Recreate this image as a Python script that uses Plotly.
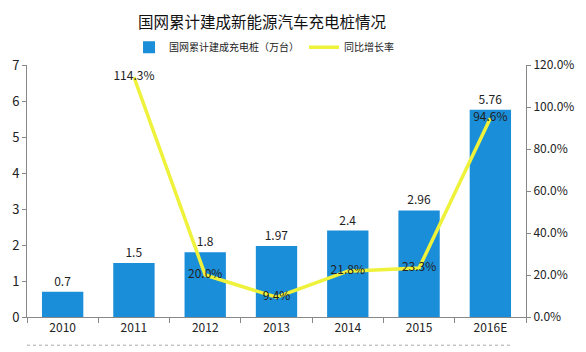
import plotly.graph_objects as go

years = ["2010", "2011", "2012", "2013", "2014", "2015", "2016E"]
piles = [0.7, 1.5, 1.8, 1.97, 2.4, 2.96, 5.76]
pile_labels = ["0.7", "1.5", "1.8", "1.97", "2.4", "2.96", "5.76"]
growth = [None, 1.143, 0.200, 0.094, 0.218, 0.233, 0.946]
growth_labels = ["", "114.3%", "20.0%", "9.4%", "21.8%", "23.3%", "94.6%"]

font = "Noto Sans CJK SC, Microsoft YaHei, sans-serif"

fig = go.Figure()
fig.add_trace(go.Bar(
    x=years, y=piles, name="国网累计建成充电桩（万台）",
    marker=dict(color="#1a8ed8", line=dict(width=0)),
    text=pile_labels, textposition="outside", cliponaxis=False,
    textfont=dict(size=12, color="#222222", family=font),
    yaxis="y",
))
fig.add_trace(go.Scatter(
    x=years, y=growth, name="同比增长率",
    mode="lines+text", line=dict(color="#eef23a", width=3.5),
    text=growth_labels, textposition="middle center",
    textfont=dict(size=12, color="#222222", family=font),
    yaxis="y2", cliponaxis=False,
))

fig.update_layout(
    width=586, height=352,
    margin=dict(l=22, r=53, t=65, b=35),
    paper_bgcolor="white", plot_bgcolor="white",
    font=dict(family=font, size=12, color="#222222"),
    title=dict(text="国网累计建成新能源汽车充电桩情况", x=0.447, xanchor="center",
               y=0.935, yanchor="middle", font=dict(size=15.5, color="#111111")),
    bargap=0.42,
    showlegend=True,
    legend=dict(orientation="h", x=0.475, xanchor="center", y=1.07, yanchor="middle",
                font=dict(size=10), itemwidth=30, bgcolor="rgba(0,0,0,0)"),
    xaxis=dict(showline=True, linecolor="#888888", ticks="outside", tickson="boundaries",
               ticklen=5, tickcolor="#888888", tickfont=dict(size=12), showgrid=False),
    yaxis=dict(range=[0, 7], dtick=1, showline=True, linecolor="#888888", ticks="outside",
               ticklen=4, tickcolor="#888888", showgrid=False, zeroline=False,
               tickfont=dict(size=13)),
    yaxis2=dict(range=[0, 1.2], dtick=0.2, tickformat=".1%", overlaying="y", side="right",
                showline=True, linecolor="#888888", ticks="outside", ticklen=4,
                tickcolor="#888888", showgrid=False, zeroline=False,
                tickfont=dict(size=12)),
)
fig.add_shape(type="line", xref="paper", yref="paper", x0=0.0, x1=0.97, y0=-0.112, y1=-0.112,
              line=dict(color="#aaaaaa", width=1, dash="dot"))

fig.write_html("out.html")
